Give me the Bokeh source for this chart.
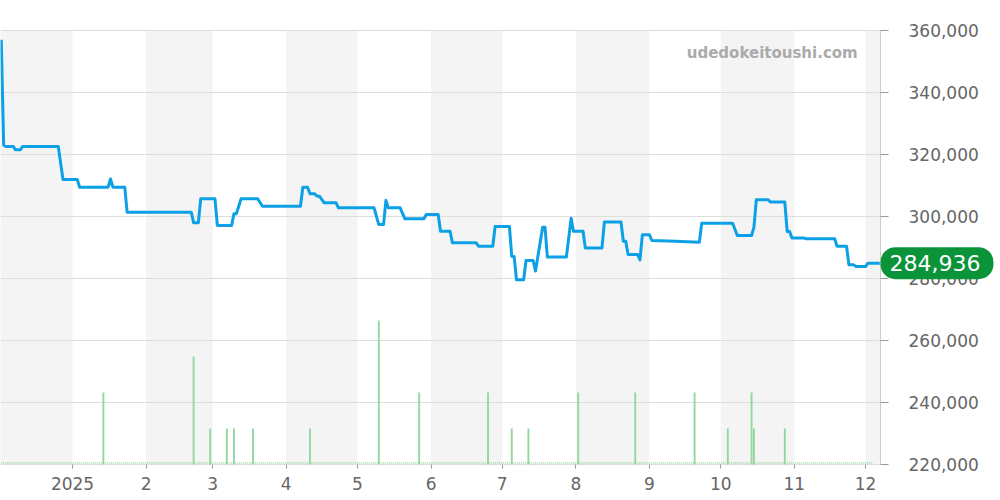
import pandas as pd
from bokeh.plotting import figure
from bokeh.models import Range1d, FixedTicker, NumeralTickFormatter, Label
from bokeh.embed import file_html
from bokeh.resources import INLINE

ORIGIN = pd.Timestamp("2024-12-01")

price_dates = [
    "2024-12-02", "2024-12-03", "2024-12-04", "2024-12-07", "2024-12-08", "2024-12-10",
    "2024-12-11", "2024-12-26", "2024-12-28", "2025-01-03", "2025-01-04", "2025-01-16",
    "2025-01-17", "2025-01-18", "2025-01-23", "2025-01-24", "2025-02-20", "2025-02-21",
    "2025-02-23", "2025-02-24", "2025-03-02", "2025-03-03", "2025-03-09", "2025-03-10",
    "2025-03-11", "2025-03-13", "2025-03-20", "2025-03-22", "2025-04-07", "2025-04-08",
    "2025-04-10", "2025-04-11", "2025-04-13", "2025-04-14", "2025-04-15", "2025-04-17",
    "2025-04-22", "2025-04-23", "2025-05-08", "2025-05-10", "2025-05-12", "2025-05-13",
    "2025-05-14", "2025-05-19", "2025-05-21", "2025-05-29", "2025-05-30", "2025-06-04",
    "2025-06-05", "2025-06-09", "2025-06-10", "2025-06-20", "2025-06-21", "2025-06-27",
    "2025-06-28", "2025-07-04", "2025-07-05", "2025-07-06", "2025-07-07", "2025-07-10",
    "2025-07-11", "2025-07-14", "2025-07-15", "2025-07-18", "2025-07-19", "2025-07-20",
    "2025-07-28", "2025-07-30", "2025-07-31", "2025-08-04", "2025-08-05", "2025-08-12",
    "2025-08-13", "2025-08-20", "2025-08-21", "2025-08-22", "2025-08-23", "2025-08-27",
    "2025-08-28", "2025-08-29", "2025-09-01", "2025-09-02", "2025-09-12", "2025-09-22",
    "2025-09-23", "2025-10-06", "2025-10-08", "2025-10-14", "2025-10-15", "2025-10-16",
    "2025-10-21", "2025-10-22", "2025-10-28", "2025-10-29", "2025-10-30", "2025-10-31",
    "2025-11-05", "2025-11-06", "2025-11-18", "2025-11-19", "2025-11-23", "2025-11-24",
    "2025-11-26", "2025-11-27", "2025-12-01", "2025-12-02", "2025-12-07",
]
price_values = [
    357000, 323000, 322600, 322600, 321500, 321500,
    322600, 322600, 311900, 311900, 309450, 309450,
    312100, 309450, 309450, 301400, 301400, 298000,
    298000, 305700, 305700, 297100, 297100, 300900,
    300900, 305700, 305700, 303300, 303300, 309450,
    309450, 307300, 307300, 306550, 306550, 304400,
    304400, 302800, 302800, 297400, 297400, 305200,
    302800, 302800, 299250, 299250, 300650, 300650,
    295250, 295250, 291500, 291500, 290400, 290400,
    296800, 296800, 287100, 287100, 279600, 279600,
    285800, 285800, 282400, 296500, 296500, 286900,
    286900, 299400, 295250, 295250, 289850, 289850,
    298200, 298200, 292000, 292000, 287750, 287750,
    286000, 294100, 294100, 292250, 292000, 291700,
    297850, 297850, 293850, 293850, 296550, 305400,
    305400, 304650, 304650, 295150, 295150, 293100,
    293100, 292800, 292800, 290400, 290400, 284400,
    284400, 283870, 283870, 284936, 284936,
]

volume_dates = [
    "2025-01-14", "2025-02-21", "2025-02-28", "2025-03-07", "2025-03-10", "2025-03-18",
    "2025-04-11", "2025-05-10", "2025-05-27", "2025-06-25", "2025-07-05", "2025-07-12",
    "2025-08-02", "2025-08-26", "2025-09-20", "2025-10-04", "2025-10-14", "2025-10-15",
    "2025-10-28",
]
volume_values = [2, 3, 1, 1, 1, 1, 1, 4, 2, 2, 1, 1, 2, 2, 2, 1, 2, 1, 1]

month_starts = ["2024-12-01", "2025-01-01", "2025-02-01", "2025-03-01", "2025-04-01",
                "2025-05-01", "2025-06-01", "2025-07-01", "2025-08-01", "2025-09-01",
                "2025-10-01", "2025-11-01", "2025-12-01", "2026-01-01"]
month_labels = ["", "2025", "2", "3", "4", "5", "6", "7", "8", "9", "10", "11", "12", ""]

price_ticks = [220000, 240000, 260000, 280000, 300000, 320000, 340000, 360000]

last_price = price_values[-1]


def days(ds):
    return [(pd.Timestamp(d) - ORIGIN).total_seconds() / 86400.0 for d in ds]


px = days(price_dates)
vx = days(volume_dates)
mx = days(month_starts)

# Plot area: x 0..880 px, y 30..464 px of a 1000x500 canvas.  The frame covers the
# whole canvas so that the price tag and the axes (drawn at fixed locations) are
# not clipped.
W, H = 1000, 500
PX0, PX1, PY0, PY1 = 0, 880, 30, 464
X0, X1 = 0.67, 371.3
YLO, YHI = price_ticks[0], price_ticks[-1]
dx = (X1 - X0) / (PX1 - PX0)
dy = (YHI - YLO) / (PY1 - PY0)
XS, XE = X0 - PX0 * dx, X1 + (W - PX1) * dx
YS, YE = YLO - (H - PY1) * dy, YHI + PY0 * dy
VOL_PX = 36.0   # pixels per traded unit
VS, VE = -(H - PY1) / VOL_PX, PY1 / VOL_PX
FONT = "DejaVu Sans"

p = figure(width=W, height=H, output_backend="svg", toolbar_location=None,
           x_range=Range1d(XS, XE), y_range=Range1d(YS, YE),
           y_axis_location="right", min_border=0, min_border_left=0,
           min_border_right=0, min_border_top=0, min_border_bottom=0)
p.outline_line_color = None
p.background_fill_color = "white"
p.xgrid.grid_line_color = None
p.ygrid.grid_line_color = None

# alternating month bands
band_l = [mx[i] for i in range(0, len(mx) - 1, 2)]
band_r = [min(mx[i + 1], X1) for i in range(0, len(mx) - 1, 2)]
p.quad(left=band_l, right=band_r, bottom=YLO, top=YHI,
       fill_color="#f4f4f4", line_color=None, level="underlay")

# horizontal grid lines across the plot area only
p.segment(x0=[X0] * len(price_ticks), x1=[X1] * len(price_ticks),
          y0=price_ticks, y1=price_ticks, line_color="#dddddd", line_width=1,
          level="underlay")

# volume
p.extra_y_ranges = {"vol": Range1d(VS, VE)}
p.line(x=[X0 + 0.3, mx[-2] + 3.3], y=[0.04, 0.04], y_range_name="vol",
       line_color="#9ad8a5", line_width=1.5, line_dash="1 1")
p.vbar(x=vx, top=volume_values, bottom=0, width=0.8, y_range_name="vol",
       fill_color="#94d6a0", line_color=None)

# price
p.line(x=px, y=price_values, line_color="#0ca0e6", line_width=3,
       line_join="round")

# axes
xa = p.xaxis[0]
xa.fixed_location = YLO
xa.ticker = FixedTicker(ticks=mx[1:-1])
xa.major_label_overrides = {mx[i]: month_labels[i] for i in range(1, len(mx) - 1)}
xa.axis_line_color = None
xa.major_tick_line_color = "#999999"
xa.major_tick_out = 4
xa.major_tick_in = 0
xa.minor_tick_line_color = None
xa.major_label_text_font = FONT
xa.major_label_text_font_size = "17px"
xa.major_label_text_color = "#666666"
xa.major_label_standoff = 8

ya = p.yaxis[0]
ya.fixed_location = X1
ya.bounds = (YLO, YHI)
ya.ticker = FixedTicker(ticks=price_ticks)
ya.formatter = NumeralTickFormatter(format="0,0")
ya.axis_line_color = "#cccccc"
ya.major_tick_line_color = "#999999"
ya.major_tick_out = 8
ya.major_tick_in = 0
ya.minor_tick_line_color = None
ya.major_label_text_font = FONT
ya.major_label_text_font_size = "17px"
ya.major_label_text_color = "#666666"
ya.major_label_standoff = 20

# watermark
p.add_layout(Label(x=361.7, y=352900, text="udedokeitoushi.com", text_align="right",
                   text_baseline="middle", text_font=FONT, text_font_style="bold",
                   text_font_size="15px", text_color="#aaaaaa"))

# last price tag
p.add_layout(Label(x=X1, y=last_price, text=f"{last_price:,}", text_align="left",
                   text_baseline="middle", text_font=FONT, text_font_size="22px",
                   text_color="white", background_fill_color="#0a9338",
                   border_radius=15, padding=(9, 13, 8, 8)))

open("out.html", "w").write(file_html(p, INLINE))
